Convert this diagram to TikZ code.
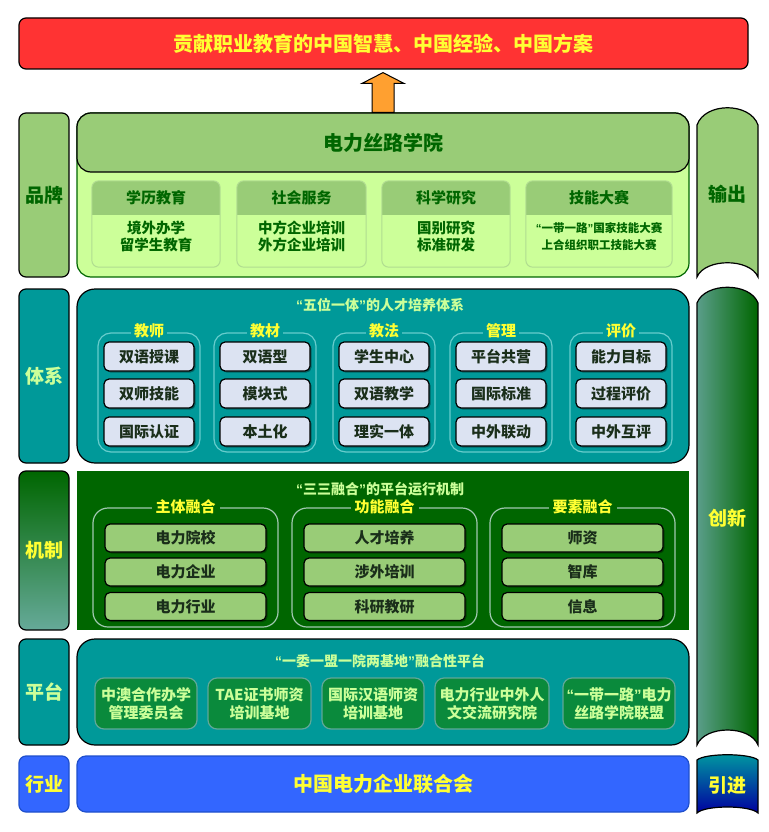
\documentclass[tikz,border=0pt]{standalone}
\usepackage{fontspec}
\setmainfont{Noto Sans CJK SC}[BoldFont={Noto Sans CJK SC Black}]
\newfontfamily\qf{Liberation Sans}
\usetikzlibrary{calc,shadows}
\definecolor{cRed}{HTML}{FF3333}
\definecolor{cYel}{HTML}{FFFF33}
\definecolor{cOrg}{HTML}{FFA030}
\definecolor{cMdG}{HTML}{99CC77}
\definecolor{cLtG}{HTML}{CCFF99}
\definecolor{cDkG}{HTML}{006600}
\definecolor{cTeal}{HTML}{009999}
\definecolor{cFrame}{HTML}{66CCCC}
\definecolor{cLav}{HTML}{DCE3F2}
\definecolor{cInk}{HTML}{1A2E1A}
\definecolor{cMFrame}{HTML}{A0C8B0}
\definecolor{cPG}{HTML}{0A8A3C}
\definecolor{cPGB}{HTML}{5FA898}
\definecolor{cBlue}{HTML}{3366FF}
\definecolor{cBlueB}{HTML}{1F4FCC}
\definecolor{cSubB}{HTML}{B0DC90}
\definecolor{cMechL}{HTML}{66AA99}
\definecolor{cInnL}{HTML}{5A9E8A}
\definecolor{cImpT}{HTML}{0099A0}
\definecolor{cImpB}{HTML}{0000A0}
\newcommand\myfs[2]{\fontsize{#1}{#2}\selectfont\bfseries}
\newcommand\qo{{\qf\bfseries “}}
\newcommand\qc{{\qf\bfseries ”}}
\tikzset{
  lab/.style={draw=black, line width=1.2pt, rounded corners=7pt, minimum width=50pt, inner sep=0pt, font=\myfs{19}{19}},
  subbox/.style={fill=cLtG, minimum height=86pt, inner sep=0pt},
  sysframe/.style={draw=cFrame, line width=1.2pt, rounded corners=13pt, minimum width=102pt, minimum height=119pt, inner sep=0pt},
  systitle/.style={fill=cTeal, inner xsep=3pt, inner ysep=0pt, text=cYel, font=\myfs{15}{15}},
  inbox/.style={draw=black, line width=1.2pt, rounded corners=5pt, fill=cLav, minimum width=90pt, minimum height=29pt, inner sep=0pt, text=cInk, font=\myfs{15}{15}, drop shadow={shadow xshift=1.5pt, shadow yshift=-1.5pt, fill=black, opacity=0.35}},
  mframe/.style={draw=cMFrame, line width=1.2pt, rounded corners=15pt, minimum width=185pt, minimum height=119pt, inner sep=0pt},
  mtitle/.style={fill=cDkG, inner xsep=4pt, inner ysep=0pt, text=cYel, font=\myfs{15}{15}},
  mbox/.style={draw=black, line width=1.2pt, rounded corners=5pt, fill=cMdG, minimum width=161pt, minimum height=28pt, inner sep=0pt, text=cInk, font=\myfs{15}{15}, drop shadow={shadow xshift=1.5pt, shadow yshift=-1.5pt, fill=black, opacity=0.35}},
  pbox/.style={draw=cPGB, line width=1.2pt, rounded corners=9pt, fill=cPG, minimum height=51pt, inner sep=0pt, align=center, text=cLtG, font=\myfs{15}{18}},
  bigtitle/.style={text=cLtG, font=\myfs{14}{14}},
  bantext/.style={font=\myfs{19}{19}},
}
\newcommand\brandbox[6]{%
  \node[subbox, minimum width=#3] (#1) at (#2,224) {};
  \begin{scope}
    \clip[rounded corners=7pt] (#1.north west) rectangle (#1.south east);
    \fill[cMdG] (#1.north west) rectangle ($(#1.north east)+(0,34)$);
  \end{scope}
  \draw[cSubB, line width=1pt, rounded corners=7pt] (#1.north west) rectangle (#1.south east);
  \node[text=cDkG, font=\myfs{15}{15}] (#1h) at ($(#1.north)+(0,17)$) {#4};
  \node[text=cDkG, align=center, font=#6] (#1b) at (#2,236.5) {#5};
}
\newcommand\sysgroup[6]{%
  \node[sysframe] (#1) at (#2,392.5) {};
  \node[systitle] (#1t) at ($(#1.north)+(0,-2)$) {#3};
  \node[inbox] (#1a) at (#2,356.5) {#4};
  \node[inbox] (#1b) at (#2,393.5) {#5};
  \node[inbox] (#1c) at (#2,431.5) {#6};
}
\newcommand\mechgroup[6]{%
  \node[mframe] (#1) at (#2,567.5) {};
  \node[mtitle] (#1t) at ($(#1.north)+(0,-1)$) {#3};
  \node[mbox] (#1a) at (#2,538) {#4};
  \node[mbox] (#1b) at (#2,572) {#5};
  \node[mbox] (#1c) at (#2,606.5) {#6};
}
\begin{document}
\begin{tikzpicture}[x=1pt,y=-1pt]
\useasboundingbox (0,0) rectangle (768,832);
\fill[white] (0,0) rectangle (768,832);

% goal
\node[draw=black, line width=1.2pt, rounded corners=7pt, fill=cRed, minimum width=729pt, minimum height=51pt, inner sep=0pt, text=cYel, font=\myfs{20}{20}] (goal) at (383.5,43.5) {贡献职业教育的中国智慧、中国经验、中国方案};

% left labels
\node[lab, fill=cMdG, minimum height=164pt, text=cDkG] (lbrand) at (44,195) {品牌};
\node[lab, fill=cTeal, minimum height=174pt, text=cLtG] (lsys) at (44,376) {体系};
\node[lab, top color=cDkG, bottom color=cMechL, minimum height=159pt, text=cYel] (lmech) at (44,550.5) {机制};
\node[lab, fill=cTeal, minimum height=106pt, text=cLtG] (lplat) at (44,692) {平台};
\node[lab, draw=cBlueB, fill=cBlue, minimum height=56pt, text=cYel] (lind) at (44,784) {行业};

% brand block
\node[draw=cDkG, line width=1.2pt, rounded corners=14pt, fill=cLtG, minimum width=612pt, minimum height=164pt, inner sep=0pt] (brand) at (383,195) {};
\node[draw=black, line width=1.2pt, rounded corners=14pt, fill=cMdG, minimum width=612pt, minimum height=59pt, inner sep=0pt, text=cDkG, font=\myfs{20}{20}] (college) at (383,142.5) {电力丝路学院};

% arrow
\draw[fill=cOrg, line width=1pt, line join=miter]
  ($(college.north)+(-11,0)$) -- ($(college.north)+(-11,-29)$) -- ($(college.north)+(-21,-29)$)
  -- ($(goal.south)+(-0.5,3)$) -- ($(college.north)+(21,-29)$) -- ($(college.north)+(11,-29)$)
  -- ($(college.north)+(11,0)$) -- cycle;

\brandbox{s1}{156}{128pt}{学历教育}{境外办学\\留学生教育}{\myfs{14.5}{17}}
\brandbox{s2}{301.5}{129pt}{社会服务}{中方企业培训\\外方企业培训}{\myfs{14.5}{17}}
\brandbox{s3}{446}{128pt}{科学研究}{国别研究\\标准研发}{\myfs{14.5}{17}}
\brandbox{s4}{599}{146pt}{技能大赛}{\qo 一带一路\qc 国家技能大赛\\上合组织职工技能大赛}{\myfs{11.5}{17}}

% system block
\node[draw=black, line width=1.2pt, rounded corners=18pt, fill=cTeal, minimum width=612pt, minimum height=174pt, inner sep=0pt] (sys) at (383,376) {};
\node[bigtitle] (systt) at (380,305) {\qo 五位一体\qc 的人才培养体系};
\sysgroup{ga}{149}{教师}{双语授课}{双师技能}{国际认证}
\sysgroup{gb}{265}{教材}{双语型}{模块式}{本土化}
\sysgroup{gc}{384}{教法}{学生中心}{双语教学}{理实一体}
\sysgroup{gd}{501}{管理}{平台共营}{国际标准}{中外联动}
\sysgroup{ge}{621}{评价}{能力目标}{过程评价}{中外互评}

% mechanism block
\node[fill=cDkG, minimum width=612pt, minimum height=159pt, inner sep=0pt] (mech) at (383,550.5) {};
\node[bigtitle] (mechtt) at (380,489) {\qo 三三融合\qc 的平台运行机制};
\mechgroup{ma}{185.5}{主体融合}{电力院校}{电力企业}{电力行业}
\mechgroup{mb}{384.5}{功能融合}{人才培养}{涉外培训}{科研教研}
\mechgroup{mc}{582.5}{要素融合}{师资}{智库}{信息}

% platform block
\node[draw=black, line width=1.2pt, rounded corners=18pt, fill=cTeal, minimum width=612pt, minimum height=106pt, inner sep=0pt] (plat) at (383,692) {};
\node[bigtitle] (plattt) at (380,661) {\qo 一委一盟一院两基地\qc 融合性平台};
\node[pbox, minimum width=102pt] (p1) at (146,703.5) {中澳合作办学\\管理委员会};
\node[pbox, minimum width=103pt] (p2) at (259.5,703.5) {TAE证书师资\\培训基地};
\node[pbox, minimum width=102pt] (p3) at (373,703.5) {国际汉语师资\\培训基地};
\node[pbox, minimum width=114pt] (p4) at (492,703.5) {电力行业中外人\\文交流研究院};
\node[pbox, minimum width=112pt] (p5) at (619,703.5) {\qo 一带一路\qc 电力\\丝路学院联盟};

% industry block
\node[draw=cBlueB, line width=1.2pt, rounded corners=9pt, fill=cBlue, minimum width=612pt, minimum height=56pt, inner sep=0pt, text=cYel, font=\myfs{20}{20}] (ind) at (383,784) {中国电力企业联合会};

% right banners
\path[draw=black, line width=1.2pt, fill=cMdG]
  (697,277) -- (697,125) .. controls (705,102) and (750,102) .. (758,125)
  -- (758,277) .. controls (750,258) and (705,258) .. (697,277) -- cycle;
\node[bantext, text=cDkG] (out) at (727.5,194) {输出};

\path[draw=black, line width=1.2pt, left color=cInnL, right color=cDkG]
  (697,745) -- (697,303) .. controls (705,282) and (750,282) .. (758,303)
  -- (758,745) .. controls (750,725) and (705,725) .. (697,745) -- cycle;
\node[bantext, text=cYel] (inn) at (727.5,518) {创新};

\path[draw=black, line width=1.2pt, top color=cImpT, bottom color=cImpB]
  (697,813) -- (697,760) .. controls (705,753) and (750,753) .. (758,760)
  -- (758,813) .. controls (750,805) and (705,805) .. (697,813) -- cycle;
\node[bantext, text=cYel] (imp) at (727.5,785) {引进};
\end{tikzpicture}
\end{document}
